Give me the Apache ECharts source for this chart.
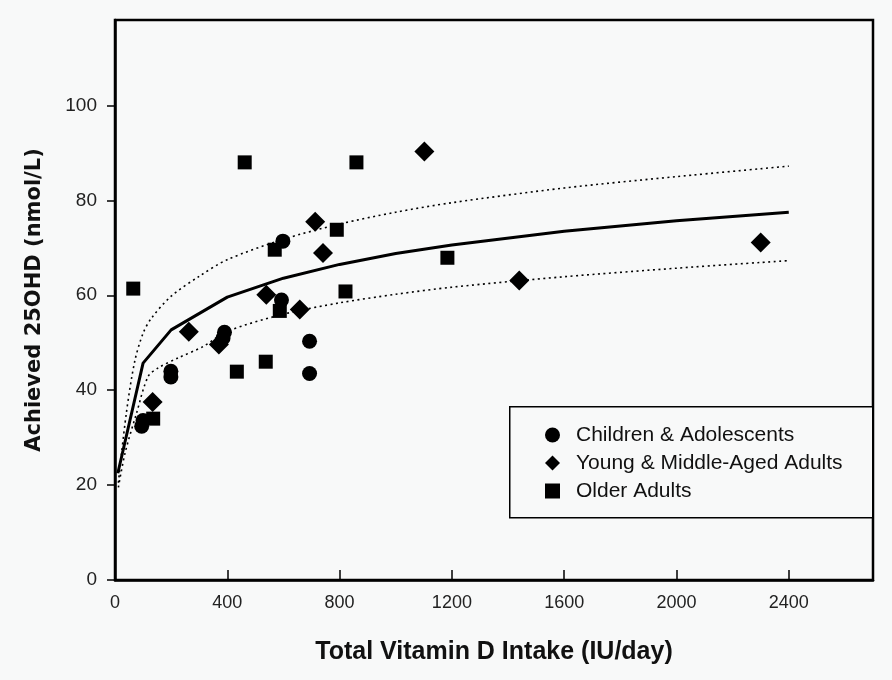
<!DOCTYPE html>
<html>
<head>
<meta charset="UTF-8">
<title>25OHD vs vitamin D intake</title>
<script src="https://cdn.jsdelivr.net/npm/echarts@6/dist/echarts.min.js"></script>
<style>
  body { margin: 0; padding: 0; background: #f8f9f9; }
  #main { width: 892px; height: 680px; }
</style>
</head>
<body>
<div id="main"></div>
<script>
// values
const childX = [95, 100, 199, 199, 385, 390, 593, 598, 693, 693];
const childY = [32.4, 33.6, 42.8, 44, 51, 52.2, 59, 71.4, 50.3, 43.5];

const youngX = [134, 263, 370, 539, 658, 713, 741, 1102, 1440, 2300];
const youngY = [37.5, 52.3, 49.6, 60.1, 57, 75.5, 68.9, 90.3, 63.1, 71.1];

const olderX = [65, 136, 434, 462, 537, 569, 587, 790, 821, 860, 1184];
const olderY = [61.4, 34, 43.9, 88, 46, 69.6, 56.7, 73.8, 60.8, 88, 67.9];

// fitted curve and its bounds
const fitX = [10, 100, 200, 400, 600, 800, 1000, 1200, 1600, 2000, 2400];
const fitY = [22.5, 45.7, 52.7, 59.6, 63.6, 66.5, 68.8, 70.6, 73.5, 75.7, 77.5];
const upperX = [12, 40, 70, 100, 130, 200, 300, 400, 600, 800, 1000, 1200, 1600, 2000, 2400];
const upperY = [20.5, 35, 46, 52, 55.2, 59.8, 64, 67.5, 71.8, 75, 77.5, 79.5, 82.6, 85, 87.2];
const lowerX = [12, 36, 77, 118, 154, 225, 314, 400, 600, 800, 1000, 1200, 1600, 2000, 2400];
const lowerY = [19.5, 26.8, 35.2, 42.9, 44.7, 46.8, 49.2, 52.4, 56, 58.4, 60.2, 61.7, 63.9, 65.7, 67.3];

const xTicks = [0, 400, 800, 1200, 1600, 2000, 2400];
const yTicks = [0, 20, 40, 60, 80, 100];

const pairs = (xs, ys) => xs.map((x, i) => [x, ys[i]]);
const font = 'Liberation Sans, Arial, sans-serif';
const wide = 'DejaVu Sans, Verdana, sans-serif';

const chart = echarts.init(document.getElementById('main'), null, {renderer: 'canvas'});

chart.setOption({
    backgroundColor: '#f8f9f9',
    animation: false,
    grid: {
        left: 115, right: 19, top: 20, bottom: 100,
        show: true, borderColor: '#000', borderWidth: 2.5,
        backgroundColor: 'transparent'
    },
    xAxis: {
        type: 'value', min: 0, max: 2700, interval: 400,
        name: 'Total Vitamin D Intake (IU/day)',
        nameLocation: 'middle', nameGap: 60,
        nameTextStyle: {fontFamily: font, fontWeight: 'bold', fontSize: 25, color: '#111'},
        axisLine: {lineStyle: {color: '#000', width: 2.5}},
        axisTick: {inside: true, length: 10, lineStyle: {color: '#000', width: 1.5}, customValues: xTicks},
        axisLabel: {
            fontFamily: font, fontSize: 18, color: '#222', margin: 14, customValues: xTicks,
            formatter: v => String(v)
        },
        splitLine: {show: false}
    },
    yAxis: {
        type: 'value', min: 0, max: 118, interval: 20,
        name: 'Achieved 25OHD (nmol/L)',
        nameLocation: 'middle', nameGap: 70,
        nameTextStyle: {fontFamily: wide, fontWeight: 'bold', fontSize: 21, color: '#111'},
        axisLine: {lineStyle: {color: '#000', width: 2.5}},
        axisTick: {length: 8, lineStyle: {color: '#000', width: 1.5}, customValues: yTicks},
        axisLabel: {fontFamily: font, fontSize: 19, color: '#222', margin: 18, customValues: yTicks},
        splitLine: {show: false}
    },
    graphic: [{
        type: 'rect', left: 509, top: 406, z: 5,
        shape: {width: 363, height: 111},
        style: {fill: '#f8f9f9', stroke: '#000', lineWidth: 1.5}
    }],
    legend: {
        orient: 'vertical', left: 540, top: 419, z: 10,
        itemWidth: 15, itemHeight: 15, itemGap: 6,
        textStyle: {fontFamily: font, fontSize: 21, lineHeight: 22, color: '#111', padding: [0, 0, 0, 11]},
        data: [
            {name: 'Children & Adolescents', icon: 'circle'},
            {name: 'Young & Middle-Aged Adults', icon: 'diamond'},
            {name: 'Older Adults', icon: 'rect'}
        ]
    },
    series: [
        {
            name: 'fit', type: 'line', data: pairs(fitX, fitY), showSymbol: false, symbol: 'none',
            lineStyle: {color: '#000', width: 3}, z: 3
        },
        {
            name: 'upper', type: 'line', data: pairs(upperX, upperY), showSymbol: false, symbol: 'none', smooth: 0.3,
            lineStyle: {color: '#000', width: 1.6, type: [2, 3.5]}, z: 3
        },
        {
            name: 'lower', type: 'line', data: pairs(lowerX, lowerY), showSymbol: false, symbol: 'none', smooth: 0.3,
            lineStyle: {color: '#000', width: 1.6, type: [2, 3.5]}, z: 3
        },
        {
            name: 'Children & Adolescents', type: 'scatter', data: pairs(childX, childY),
            symbol: 'circle', symbolSize: 15, itemStyle: {color: '#000', opacity: 1}, z: 4
        },
        {
            name: 'Young & Middle-Aged Adults', type: 'scatter', data: pairs(youngX, youngY),
            symbol: 'diamond', symbolSize: 20, itemStyle: {color: '#000', opacity: 1}, z: 4
        },
        {
            name: 'Older Adults', type: 'scatter', data: pairs(olderX, olderY),
            symbol: 'rect', symbolSize: 14, itemStyle: {color: '#000', opacity: 1}, z: 4
        }
    ]
});
</script>
</body>
</html>
